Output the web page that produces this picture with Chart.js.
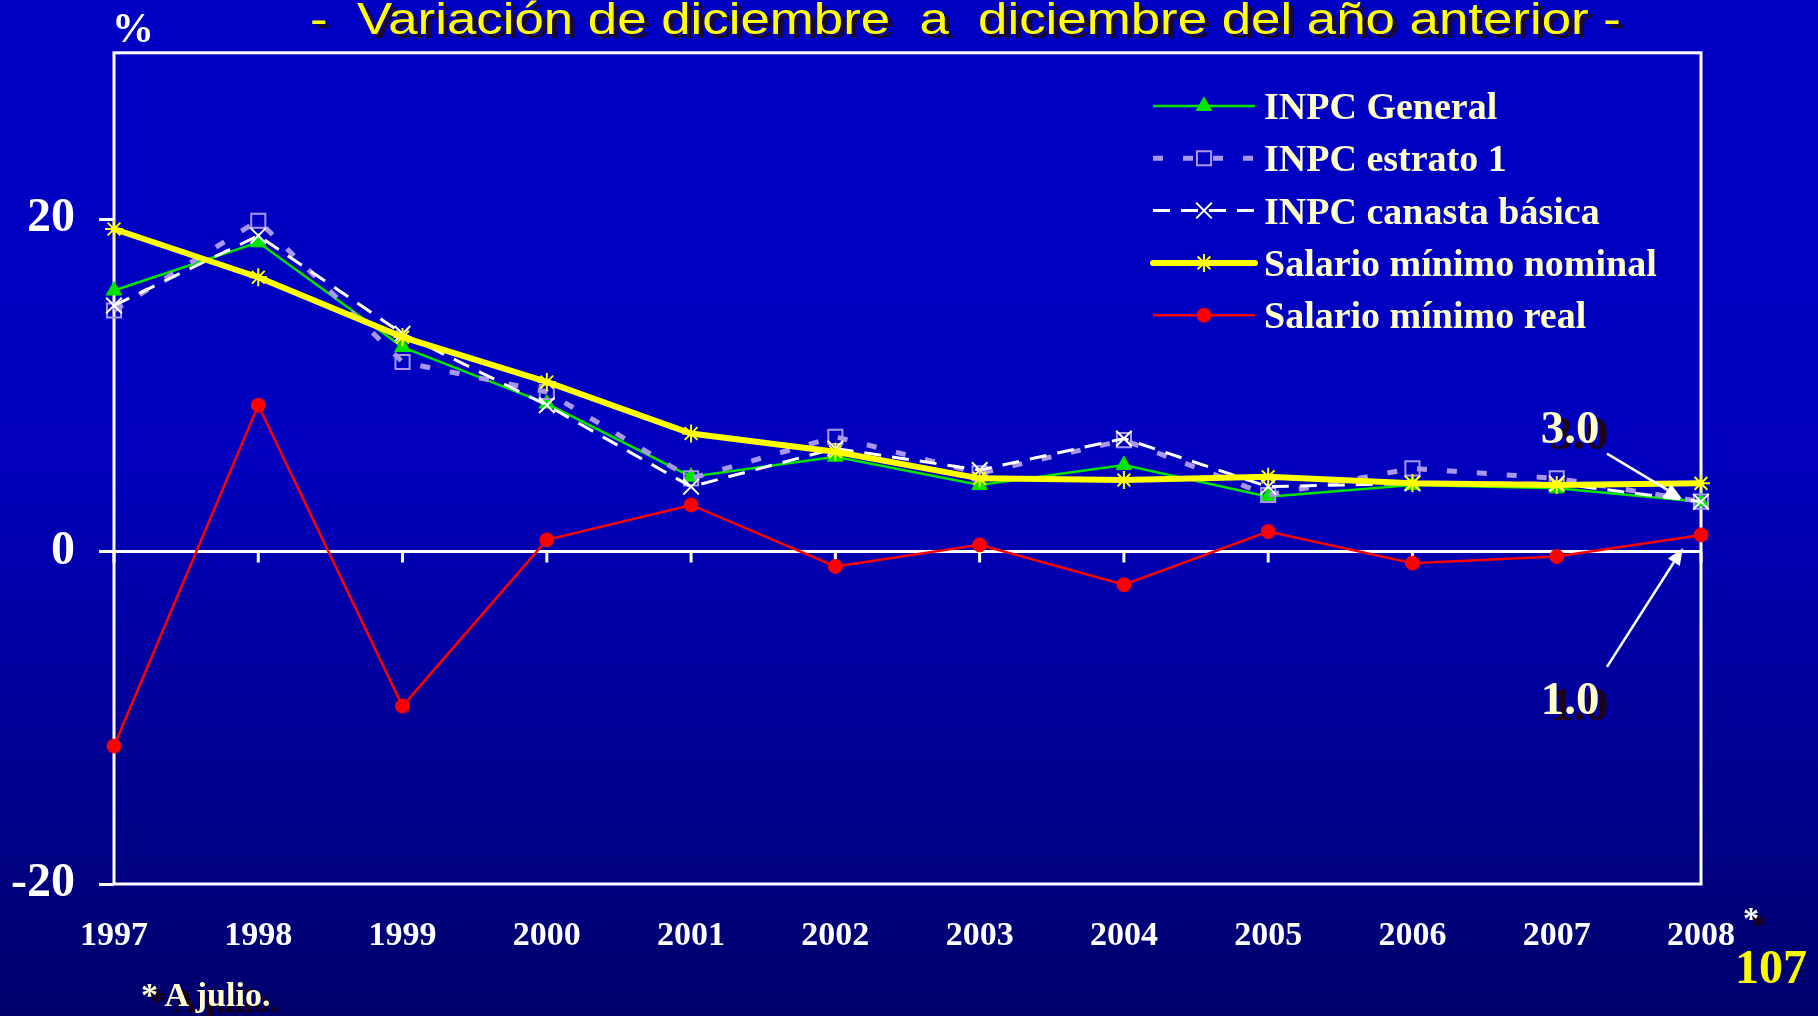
<!DOCTYPE html>
<html>
<head>
<meta charset="utf-8">
<script src="https://cdn.jsdelivr.net/npm/chart.js@4"></script>
<style>
  html, body { margin: 0; padding: 0; }
  body {
    width: 1818px; height: 1016px; overflow: hidden; position: relative;
    background: linear-gradient(to bottom, #0000C4 0%, #0000BE 45%, #00006C 100%);
  }
  canvas { position: absolute; left: 0; top: 0; }
  .txt { position: absolute; white-space: nowrap; line-height: 1; }
  #titulo {
    left: 310px; top: -6px; font: 44px "Liberation Sans", Arial, sans-serif; color: #FFFF00;
    text-shadow: 4px 4px 0 #1c0a2c; transform: scaleX(1.2); transform-origin: 0 0;
  }
  .serif { font-family: "Liberation Serif", "Times New Roman", serif; font-weight: bold; }
  #pct { left: 112px; top: 7px; font-size: 42px; color: #fff; }
  #nota { left: 141px; top: 978px; font-size: 34px; color: #FFFFCC; text-shadow: 8px 6px 0 #1a0012; }
  #pagina { left: 1735px; top: 943px; font-size: 48px; color: #F8F800; }
  #ast { left: 1743px; top: 902px; font-size: 32px; color: #fff; text-shadow: 8px 7px 0 #1a0012; }
</style>
</head>
<body>
<canvas id="grafica" width="1818" height="1016"></canvas>
<div id="titulo" class="txt">-&nbsp; Variación de diciembre &nbsp;a &nbsp;diciembre del año anterior -</div>
<div id="pct" class="txt serif">%</div>
<div id="ast" class="txt serif">*</div>
<div id="pagina" class="txt serif">107</div>
<div id="nota" class="txt serif">* A julio.</div>
<script>
// variación anual, %
const years = ['1997', '1998', '1999', '2000', '2001', '2002', '2003', '2004', '2005', '2006', '2007', '2008'];
const inpcGeneral    = [15.7, 18.6, 12.3, 8.9, 4.5, 5.7, 4.0, 5.2, 3.3, 4.0, 3.8, 3.0];
const inpcEstrato1   = [14.5, 19.9, 11.4, 9.6, 4.4, 6.9, 4.7, 6.7, 3.4, 5.0, 4.4, 3.0];
const inpcCanasta    = [14.8, 19.0, 13.1, 8.8, 3.9, 6.2, 4.9, 6.8, 3.9, 4.1, 4.1, 3.0];
const salarioNominal = [19.4, 16.5, 12.9, 10.2, 7.1, 6.0, 4.4, 4.3, 4.5, 4.1, 4.0, 4.1];
const salarioReal    = [-11.7, 8.8, -9.3, 0.7, 2.8, -0.9, 0.4, -2.0, 1.2, -0.7, -0.3, 1.0];
const seriesNames = ['INPC General', 'INPC estrato 1', 'INPC canasta básica', 'Salario mínimo nominal', 'Salario mínimo real'];
const yTicks = [-20, 0, 20];

const SERIF = '"Liberation Serif", "Times New Roman", serif';
const CREAM = '#FFFFCC';

// marco del área, línea del cero y sus marcas
const frame = {
  id: 'frame',
  beforeDatasetsDraw(chart) {
    const { ctx, chartArea: a, scales: { x, y } } = chart;
    const y0 = y.getPixelForValue(0);
    ctx.save();
    ctx.strokeStyle = '#fff';
    ctx.lineWidth = 3;
    ctx.strokeRect(a.left, a.top, a.right - a.left, a.bottom - a.top);
    ctx.beginPath();
    ctx.moveTo(a.left, y0);
    ctx.lineTo(a.right, y0);
    years.forEach((_, i) => {
      const px = x.getPixelForValue(i);
      ctx.moveTo(px, y0);
      ctx.lineTo(px, y0 + 11);
    });
    ctx.stroke();
    ctx.restore();
  }
};

// leyenda con muestra de línea y marcador
const legendBox = {
  id: 'legendBox',
  afterDraw(chart) {
    const ctx = chart.ctx;
    const x0 = 1153, x1 = 1255, top = 106, step = 52.3;
    chart.data.datasets.forEach((ds, i) => {
      const yy = top + i * step;
      ctx.save();
      ctx.strokeStyle = ds.borderColor;
      ctx.lineWidth = ds.borderWidth;
      ctx.lineCap = ds.borderCapStyle || 'butt';
      ctx.setLineDash(ds.borderDash || []);
      ctx.beginPath();
      ctx.moveTo(x0, yy);
      ctx.lineTo(x1, yy);
      ctx.stroke();
      ctx.setLineDash([]);
      ctx.lineCap = 'butt';
      ctx.fillStyle = ds.pointBackgroundColor;
      ctx.strokeStyle = ds.pointBorderColor;
      ctx.lineWidth = ds.pointBorderWidth;
      Chart.helpers.drawPoint(ctx, {
        pointStyle: ds.pointStyle, radius: ds.pointRadius, rotation: 0, borderWidth: ds.pointBorderWidth
      }, (x0 + x1) / 2, yy);
      ctx.fillStyle = CREAM;
      ctx.font = 'bold 38px ' + SERIF;
      ctx.textBaseline = 'alphabetic';
      ctx.fillText(ds.label, 1264, yy + 13);
      ctx.restore();
    });
  }
};

function arrow(ctx, x1, y1, x2, y2) {
  const ang = Math.atan2(y2 - y1, x2 - x1);
  const len = 17, half = 7;
  const bx = x2 - len * Math.cos(ang), by = y2 - len * Math.sin(ang);
  ctx.beginPath();
  ctx.moveTo(x1, y1);
  ctx.lineTo(bx, by);
  ctx.stroke();
  ctx.beginPath();
  ctx.moveTo(x2, y2);
  ctx.lineTo(bx + half * Math.sin(ang), by - half * Math.cos(ang));
  ctx.lineTo(bx - half * Math.sin(ang), by + half * Math.cos(ang));
  ctx.closePath();
  ctx.fill();
}

function shadowText(ctx, text, cx, base) {
  ctx.font = 'bold 47px ' + SERIF;
  ctx.textAlign = 'center';
  ctx.textBaseline = 'alphabetic';
  ctx.fillStyle = '#1e0414';
  ctx.fillText(text, cx + 9, base + 6);
  ctx.fillStyle = CREAM;
  ctx.fillText(text, cx, base);
}

// etiquetas del último dato con flecha
const lastNotes = {
  id: 'lastNotes',
  afterDatasetsDraw(chart) {
    const { ctx, scales: { x, y } } = chart;
    const i = years.length - 1;
    const px = x.getPixelForValue(i);
    const yG = y.getPixelForValue(inpcGeneral[i]);
    const yR = y.getPixelForValue(salarioReal[i]);
    ctx.save();
    ctx.strokeStyle = '#fff';
    ctx.fillStyle = '#fff';
    ctx.lineWidth = 2.5;
    arrow(ctx, px - 94, yG - 48, px - 19, yG - 3);
    arrow(ctx, px - 94, yR + 132, px - 18, yR + 13);
    shadowText(ctx, inpcGeneral[i].toFixed(1), px - 131, yG - 59);
    shadowText(ctx, salarioReal[i].toFixed(1), px - 131, yR + 179);
    ctx.restore();
  }
};

const datasets = [
  { data: inpcGeneral, borderColor: '#00E400', borderWidth: 2.5, pointStyle: 'triangle', pointRadius: 9,
    pointBackgroundColor: '#00E400', pointBorderColor: '#00E400', pointBorderWidth: 1, order: 3 },
  { data: inpcEstrato1, borderColor: '#A996EE', borderWidth: 5, borderDash: [10, 20], pointStyle: 'rect', pointRadius: 10,
    pointBackgroundColor: 'rgba(0,0,0,0)', pointBorderColor: '#A996EE', pointBorderWidth: 2, order: 2 },
  { data: inpcCanasta, borderColor: '#FFFFFF', borderWidth: 3, borderDash: [17, 11], pointStyle: 'crossRot', pointRadius: 11,
    pointBackgroundColor: '#FFFFFF', pointBorderColor: '#FFFFFF', pointBorderWidth: 2, order: 1 },
  { data: salarioNominal, borderColor: '#FFFF00', borderWidth: 6, borderCapStyle: 'round', pointStyle: 'star', pointRadius: 9,
    pointBackgroundColor: '#FFFF00', pointBorderColor: '#FFFF00', pointBorderWidth: 2, order: 0 },
  { data: salarioReal, borderColor: '#FF0000', borderWidth: 2.5, pointStyle: 'circle', pointRadius: 7,
    pointBackgroundColor: '#FF0000', pointBorderColor: '#FF0000', pointBorderWidth: 1, order: 4 }
];
datasets.forEach((ds, i) => { ds.label = seriesNames[i]; ds.fill = false; ds.tension = 0; });

new Chart(document.getElementById('grafica'), {
  type: 'line',
  data: { labels: years, datasets },
  plugins: [frame, legendBox, lastNotes],
  options: {
    responsive: false,
    devicePixelRatio: 1,
    animation: false,
    layout: { autoPadding: false, padding: { left: 0, right: 117, top: 49, bottom: 0 } },
    plugins: { legend: { display: false }, tooltip: { enabled: false } },
    scales: {
      x: {
        type: 'category',
        offset: false,
        grid: { display: false },
        border: { display: false },
        ticks: {
          color: '#fff', autoSkip: false, maxRotation: 0, padding: 24,
          font: { family: SERIF, weight: 'bold', size: 34 }
        },
        afterFit: s => { s.height = 132; }
      },
      y: {
        min: -20,
        max: 30,
        afterBuildTicks: s => { s.ticks = yTicks.map(v => ({ value: v })); },
        grid: { drawOnChartArea: false, drawTicks: true, tickLength: 15, color: '#fff', lineWidth: 3 },
        border: { display: false },
        ticks: {
          color: '#fff', padding: 24,
          font: { family: SERIF, weight: 'bold', size: 48 }
        },
        afterFit: s => { s.width = 114; }
      }
    }
  }
});
</script>
</body>
</html>
